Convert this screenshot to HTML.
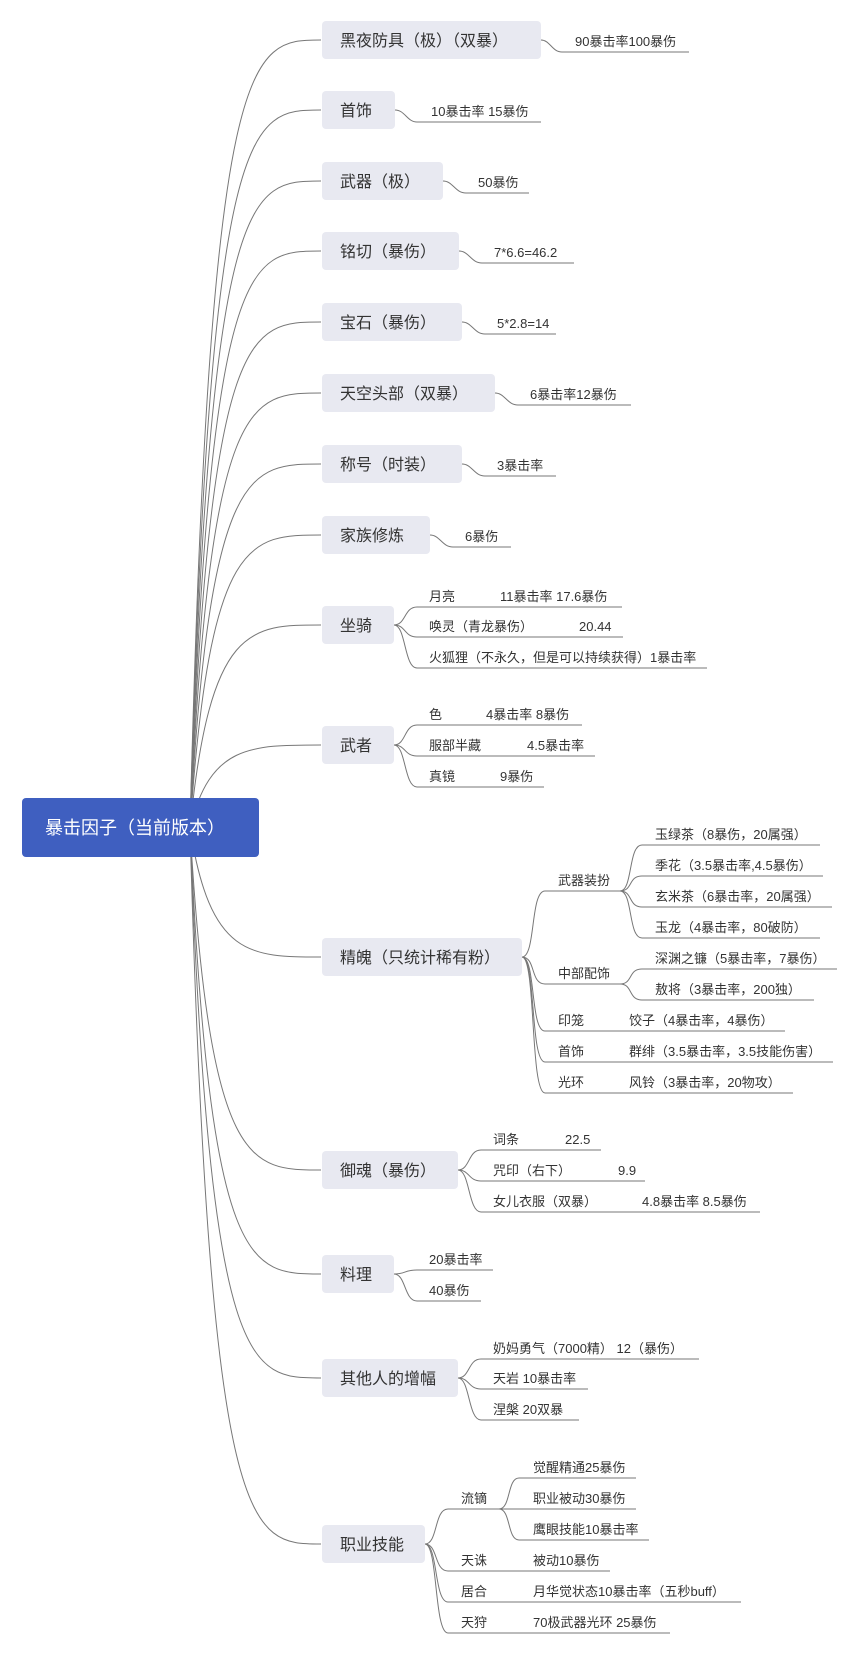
<!DOCTYPE html>
<html><head><meta charset="utf-8"><style>
html,body{margin:0;padding:0;background:#fff;}
svg{display:block;}
text{font-family:"Liberation Sans","Noto Sans CJK SC",sans-serif;fill:#333;}
.m{font-size:16px;}
.l{font-size:13px;}
path{fill:none;stroke:#777;stroke-width:1;}
</style></head><body>
<svg width="855" height="1655" viewBox="0 0 855 1655" xmlns="http://www.w3.org/2000/svg">
<!-- root connectors -->
<g>
<path d="M190 828 C210 40,250 40,321 40"/>
<path d="M190 828 C210 110,250 110,321 110"/>
<path d="M190 828 C210 181,250 181,321 181"/>
<path d="M190 828 C210 251,250 251,321 251"/>
<path d="M190 828 C210 322,250 322,321 322"/>
<path d="M190 828 C210 393,250 393,321 393"/>
<path d="M190 828 C210 464,250 464,321 464"/>
<path d="M190 828 C210 535,250 535,321 535"/>
<path d="M190 828 C210 625,250 625,321 625"/>
<path d="M190 828 C210 745,250 745,321 745"/>
<path d="M190 828 C210 957,250 957,321 957"/>
<path d="M190 828 C210 1170,250 1170,321 1170"/>
<path d="M190 828 C210 1274,250 1274,321 1274"/>
<path d="M190 828 C210 1378,250 1378,321 1378"/>
<path d="M190 828 C210 1544,250 1544,321 1544"/>
</g>
<!-- root -->
<rect x="22" y="798" width="237" height="59" rx="4" fill="#3f5fc0"/>
<text x="45" y="834" style="font-size:18px;fill:#fff">暴击因子（当前版本）</text>

<!-- main boxes -->
<g fill="#e8e9f1">
<rect x="322" y="21" width="219" height="38" rx="4"/>
<rect x="322" y="91" width="73" height="38" rx="4"/>
<rect x="322" y="162" width="121" height="38" rx="4"/>
<rect x="322" y="232" width="137" height="38" rx="4"/>
<rect x="322" y="303" width="140" height="38" rx="4"/>
<rect x="322" y="374" width="173" height="38" rx="4"/>
<rect x="322" y="445" width="140" height="38" rx="4"/>
<rect x="322" y="516" width="108" height="38" rx="4"/>
<rect x="322" y="606" width="72" height="38" rx="4"/>
<rect x="322" y="726" width="72" height="38" rx="4"/>
<rect x="322" y="938" width="200" height="38" rx="4"/>
<rect x="322" y="1151" width="136" height="38" rx="4"/>
<rect x="322" y="1255" width="72" height="38" rx="4"/>
<rect x="322" y="1359" width="136" height="38" rx="4"/>
<rect x="322" y="1525" width="103" height="38" rx="4"/>
</g>
<g class="m">
<text x="340" y="46">黑夜防具（极）（双暴）</text>
<text x="340" y="116">首饰</text>
<text x="340" y="187">武器（极）</text>
<text x="340" y="257">铭切（暴伤）</text>
<text x="340" y="328">宝石（暴伤）</text>
<text x="340" y="399">天空头部（双暴）</text>
<text x="340" y="470">称号（时装）</text>
<text x="340" y="541">家族修炼</text>
<text x="340" y="631">坐骑</text>
<text x="340" y="751">武者</text>
<text x="340" y="963">精魄（只统计稀有粉）</text>
<text x="340" y="1176">御魂（暴伤）</text>
<text x="340" y="1280">料理</text>
<text x="340" y="1384">其他人的增幅</text>
<text x="340" y="1550">职业技能</text>
</g>

<!-- simple leaves -->
<path d="M541 40 C550 40,552 52,562 52 L689 52"/>
<text class="l" x="575" y="46">90暴击率100暴伤</text>
<path d="M395 110 C405 110,407 122,417 122 L541 122"/>
<text class="l" x="431" y="116">10暴击率 15暴伤</text>
<path d="M443 181 C453 181,455 193,466 193 L529 193"/>
<text class="l" x="478" y="187">50暴伤</text>
<path d="M459 251 C469 251,471 263,482 263 L574 263"/>
<text class="l" x="494" y="257">7*6.6=46.2</text>
<path d="M462 322 C472 322,474 334,485 334 L556 334"/>
<text class="l" x="497" y="328">5*2.8=14</text>
<path d="M495 393 C505 393,507 405,518 405 L631 405"/>
<text class="l" x="530" y="399">6暴击率12暴伤</text>
<path d="M462 464 C472 464,474 476,485 476 L556 476"/>
<text class="l" x="497" y="470">3暴击率</text>
<path d="M430 535 C440 535,442 547,453 547 L511 547"/>
<text class="l" x="465" y="541">6暴伤</text>

<!-- 坐骑 -->
<path d="M394 625 C406 625,404 607,417 607 L622 607"/>
<path d="M394 625 C406 625,404 637,417 637 L623 637"/>
<path d="M394 625 C406 625,404 668,417 668 L707 668"/>
<g class="l">
<text x="429" y="601">月亮</text><text x="500" y="601">11暴击率 17.6暴伤</text>
<text x="429" y="631">唤灵（青龙暴伤）</text><text x="579" y="631">20.44</text>
<text x="429" y="662">火狐狸（不永久，但是可以持续获得）1暴击率</text>
</g>

<!-- 武者 -->
<path d="M394 745 C406 745,404 725,417 725 L582 725"/>
<path d="M394 745 C406 745,404 756,417 756 L595 756"/>
<path d="M394 745 C406 745,404 787,417 787 L544 787"/>
<g class="l">
<text x="429" y="719">色</text><text x="486" y="719">4暴击率 8暴伤</text>
<text x="429" y="750">服部半藏</text><text x="527" y="750">4.5暴击率</text>
<text x="429" y="781">真镜</text><text x="500" y="781">9暴伤</text>
</g>

<!-- 精魄 -->
<path d="M522 957 C536 957,530 891,545 891 L620 891"/>
<path d="M522 957 C536 957,530 984,545 984 L620 984"/>
<path d="M522 957 C536 957,530 1031,545 1031 L785 1031"/>
<path d="M522 957 C536 957,530 1062,545 1062 L833 1062"/>
<path d="M522 957 C536 957,530 1093,545 1093 L793 1093"/>
<path d="M620 891 C633 891,628 845,642 845 L820 845"/>
<path d="M620 891 C633 891,628 876,642 876 L823 876"/>
<path d="M620 891 C633 891,628 907,642 907 L832 907"/>
<path d="M620 891 C633 891,628 938,642 938 L820 938"/>
<path d="M620 984 C633 984,628 969,642 969 L837 969"/>
<path d="M620 984 C633 984,628 1000,642 1000 L814 1000"/>
<g class="l">
<text x="558" y="885">武器装扮</text>
<text x="558" y="978">中部配饰</text>
<text x="558" y="1025">印笼</text><text x="629" y="1025">饺子（4暴击率，4暴伤）</text>
<text x="558" y="1056">首饰</text><text x="629" y="1056">群绯（3.5暴击率，3.5技能伤害）</text>
<text x="558" y="1087">光环</text><text x="629" y="1087">风铃（3暴击率，20物攻）</text>
<text x="655" y="839">玉绿茶（8暴伤，20属强）</text>
<text x="655" y="870">季花（3.5暴击率,4.5暴伤）</text>
<text x="655" y="901">玄米茶（6暴击率，20属强）</text>
<text x="655" y="932">玉龙（4暴击率，80破防）</text>
<text x="655" y="963">深渊之镰（5暴击率，7暴伤）</text>
<text x="655" y="994">敖将（3暴击率，200独）</text>
</g>

<!-- 御魂 -->
<path d="M458 1170 C470 1170,468 1150,481 1150 L601 1150"/>
<path d="M458 1170 C470 1170,468 1181,481 1181 L645 1181"/>
<path d="M458 1170 C470 1170,468 1212,481 1212 L760 1212"/>
<g class="l">
<text x="493" y="1144">词条</text><text x="565" y="1144">22.5</text>
<text x="493" y="1175">咒印（右下）</text><text x="618" y="1175">9.9</text>
<text x="493" y="1206">女儿衣服（双暴）</text><text x="642" y="1206">4.8暴击率 8.5暴伤</text>
</g>

<!-- 料理 -->
<path d="M394 1274 C406 1274,404 1270,417 1270 L493 1270"/>
<path d="M394 1274 C406 1274,404 1301,417 1301 L481 1301"/>
<g class="l">
<text x="429" y="1264">20暴击率</text>
<text x="429" y="1295">40暴伤</text>
</g>

<!-- 其他 -->
<path d="M458 1378 C470 1378,468 1359,481 1359 L699 1359"/>
<path d="M458 1378 C470 1378,468 1389,481 1389 L588 1389"/>
<path d="M458 1378 C470 1378,468 1420,481 1420 L579 1420"/>
<g class="l">
<text x="493" y="1353">奶妈勇气（7000精） 12（暴伤）</text>
<text x="493" y="1383">天岩 10暴击率</text>
<text x="493" y="1414">涅槃  20双暴</text>
</g>

<!-- 职业技能 -->
<path d="M425 1544 C438 1544,434 1509,448 1509 L499 1509"/>
<path d="M425 1544 C438 1544,434 1571,448 1571 L610 1571"/>
<path d="M425 1544 C438 1544,434 1602,448 1602 L741 1602"/>
<path d="M425 1544 C438 1544,434 1633,448 1633 L670 1633"/>
<path d="M499 1509 C511 1509,507 1478,519 1478 L636 1478"/>
<path d="M499 1509 L636 1509"/>
<path d="M499 1509 C511 1509,507 1540,519 1540 L649 1540"/>
<g class="l">
<text x="461" y="1503">流镝</text>
<text x="533" y="1472">觉醒精通25暴伤</text>
<text x="533" y="1503">职业被动30暴伤</text>
<text x="533" y="1534">鹰眼技能10暴击率</text>
<text x="461" y="1565">天诛</text><text x="533" y="1565">被动10暴伤</text>
<text x="461" y="1596">居合</text><text x="533" y="1596">月华觉状态10暴击率（五秒buff）</text>
<text x="461" y="1627">天狩</text><text x="533" y="1627">70极武器光环 25暴伤</text>
</g>
</svg>
</body></html>
